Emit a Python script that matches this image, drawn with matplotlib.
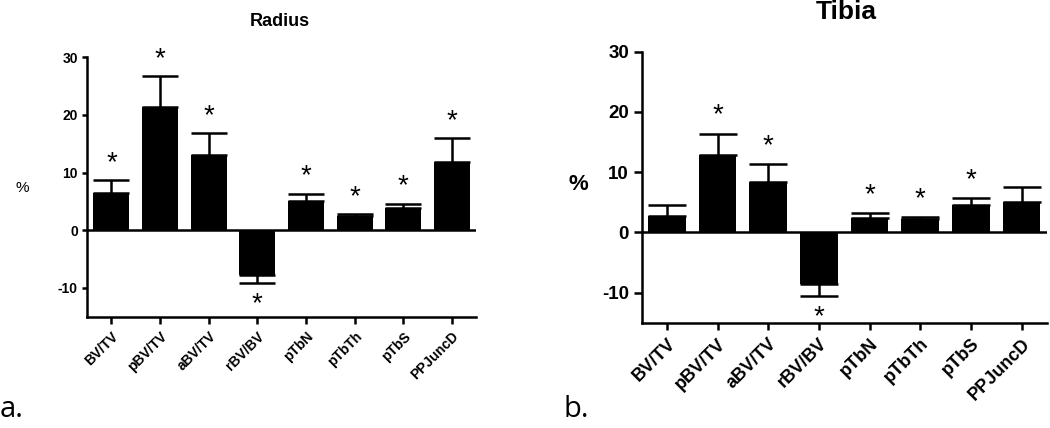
import numpy as np
import matplotlib
matplotlib.use("Agg")
import matplotlib.pyplot as plt

plt.rcParams["font.family"] = ["Liberation Sans", "DejaVu Sans"]
plt.rcParams["axes.unicode_minus"] = False

# data (% change)
labels = ["BV/TV", "pBV/TV", "aBV/TV", "rBV/BV", "pTbN", "pTbTh", "pTbS", "PPJuncD"]

radius_mean = [6.4, 21.4, 13.0, -7.7, 5.0, 2.5, 3.9, 11.9]
radius_err = [2.3, 5.3, 3.8, 1.5, 1.3, 0.3, 0.7, 4.1]
radius_sig = [True, True, True, True, True, True, True, True]

tibia_mean = [2.8, 12.8, 8.45, -8.5, 2.4, 2.15, 4.6, 5.0]
tibia_err = [1.7, 3.6, 2.85, 2.05, 0.8, 0.35, 1.1, 2.6]
tibia_sig = [False, True, True, True, True, True, True, False]

yticks = [-10, 0, 10, 20, 30]


def bar_panel(ax, means, errs, sig, tick_fs, xtick_fs, tick_len, cap, star_fs):
    x = np.arange(len(labels))
    means = np.array(means)
    errs = np.array(errs)
    lower = np.where(means < 0, errs, 0)
    upper = np.where(means >= 0, errs, 0)
    ax.errorbar(x, means, yerr=[lower, upper], fmt="none", ecolor="black",
                elinewidth=1.8, capsize=cap, capthick=1.8, zorder=1)
    ax.bar(x, means, width=0.74, color="black", zorder=2)
    ax.axhline(0, color="black", lw=1.8, zorder=3)

    off = 3.0
    for xi, m, e, s in zip(x, means, errs, sig):
        if not s:
            continue
        if m >= 0:
            ax.text(xi, m + e + off, "*", ha="center", va="center", fontsize=star_fs)
        else:
            ax.text(xi, m - e - off - 0.6, "*", ha="center", va="center", fontsize=star_fs)

    ax.set_xlim(-0.5, 7.5)
    ax.set_ylim(-15, 30)
    ax.set_yticks(yticks)
    ax.set_xticks(x)
    ax.set_xticklabels(labels, rotation=45, ha="right", rotation_mode="anchor",
                       fontsize=xtick_fs, fontweight="bold")
    for t in ax.get_yticklabels():
        t.set_fontsize(tick_fs)
        t.set_fontweight("bold")
    for side in ["top", "right"]:
        ax.spines[side].set_visible(False)
    for side in ["left", "bottom"]:
        ax.spines[side].set_linewidth(1.8)
    ax.tick_params(axis="y", length=tick_len, width=1.8, pad=3)
    ax.tick_params(axis="x", length=5, width=1.8, pad=4)


fig = plt.figure(figsize=(10.5, 4.28), dpi=100)

ax1 = fig.add_axes([0.083, 0.260, 0.3705, 0.606])
bar_panel(ax1, radius_mean, radius_err, radius_sig, 10, 10, 3.6, 13, 20)

ax2 = fig.add_axes([0.611, 0.246, 0.386, 0.633])
bar_panel(ax2, tibia_mean, tibia_err, tibia_sig, 13.5, 13, 6, 14, 20)

fig.text(0.2667, 0.939, "Radius", ha="center", va="baseline", fontsize=13, fontweight="bold")
fig.text(0.806, 0.956, "Tibia", ha="center", va="baseline", fontsize=19, fontweight="bold")

fig.text(0.021, 0.561, "%", ha="center", va="center", fontsize=11)
fig.text(0.551, 0.568, "%", ha="center", va="center", fontsize=16, fontweight="bold")

fig.text(0.0, 0.026, "a.", ha="left", va="baseline", fontsize=21, family="Open Sans")
fig.text(0.537, 0.026, "b.", ha="left", va="baseline", fontsize=21, family="Open Sans")

fig.savefig("out.png", dpi=100)
